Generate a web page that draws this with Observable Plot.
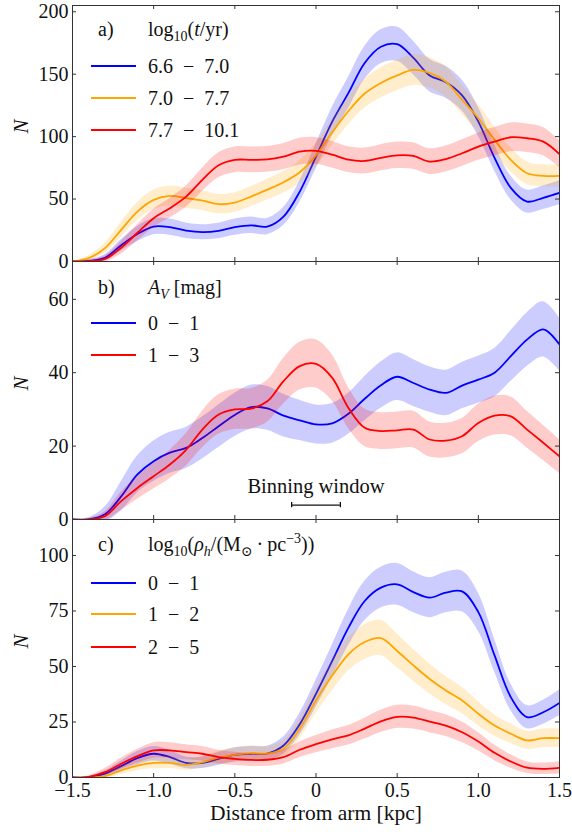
<!DOCTYPE html>
<html>
<head>
<meta charset="utf-8">
<script src="https://cdn.jsdelivr.net/npm/d3@7"></script>
<script src="https://cdn.jsdelivr.net/npm/@observablehq/plot@0.6"></script>
<style>
  html, body { margin: 0; padding: 0; background: #fff; }
  #chart { position: relative; width: 572px; height: 832px; background: #fff; }
  #chart svg { position: absolute; left: 0; overflow: visible; }
  #chart svg, #chart svg text { font-family: "Liberation Serif", "DejaVu Serif", serif !important; }
</style>
</head>
<body>
<div id="chart"></div>
<script>
// ---------- data ----------
const distance = [-1.5,-1.4,-1.3,-1.2,-1.1,-1.0,-0.9,-0.8,-0.7,-0.6,-0.5,-0.4,-0.3,-0.2,-0.1,0,0.1,0.2,0.3,0.4,0.5,0.6,0.7,0.8,0.9,1.0,1.1,1.2,1.3,1.4,1.5];

// panel a) log10(t/yr)
const ageLabels = ["6.6 − 7.0", "7.0 − 7.7", "7.7 − 10.1"];
const ageYoung  = [0,0.5,3,13,22,28,27.5,24.7,23.5,24.5,27.5,29,28,36,56,84,112,135,159,172,174,163,149,143.5,133,112,83,59,48,51,55];
const ageYoungErr = [0,1,2.5,4.5,6,6.5,6.5,6.2,6,6.2,6.5,6.6,6.5,7.2,8.5,10,11.5,12.5,13.2,13.6,13.7,13.4,13,12.8,12.4,11.6,10.5,9.5,9.2,9.4,9.6];
const ageMid    = [0,2.7,10.7,25.4,40,49.4,52.5,50.7,48.8,45.9,47.2,52,57.5,63.5,71.5,85,103.5,120.5,134.5,143,149,153.4,151,144,129.4,114.7,97.4,81.4,70.7,68.6,68.6];
const ageMidErr = [0,2,4,6,7.2,7.8,8,8,7.9,7.7,7.8,8,8.3,8.6,9,9.6,10.4,11,11.6,12,12.2,12.4,12.3,12,11.6,11,10.4,9.6,9,8.8,8.7];
const ageOld    = [0,0.3,2,11,23,34.7,42.7,52,65.4,77,81.4,81.4,81.7,84,88,88.6,85.5,81.5,80.5,83,85,84.5,80,82,86.7,92,96,99.5,98.7,96,86];
const ageOldErr = [0,1,2.5,5,6.5,7.2,7.8,8.5,9.3,10,10.3,10.3,10.3,10.5,10.7,10.7,10.6,10.3,10.3,10.5,10.6,10.6,10.3,10.4,10.7,11,11.3,11.5,11.4,11.3,10.7];

// panel b) A_V [mag]
const avLabels = ["0 − 1", "1 − 3"];
const avLow    = [0,0,1.4,6.3,12.3,15.9,18.2,19.5,22.2,25.4,28.5,30.6,30.3,28.3,27,25.9,26.2,28.8,32.9,36.6,38.9,37.2,35.4,34.5,36.5,38.1,40,44.5,49,51.8,47.7];
const avLowErr = [0,0.5,2,4,5,5.5,5.6,5.6,5.7,5.8,5.9,6,6,5.8,5.5,5.3,5.4,5.6,6,6.3,6.5,6.4,6.2,6.2,6.3,6.4,6.6,6.9,7.3,7.5,7.2];
const avHigh   = [0,0,0.9,5,8.6,11.8,15,19,24.5,28.6,30,30.2,32.2,37.7,41.8,42.4,38.6,30.4,25,24.1,24.3,24.5,21.8,21.5,22.7,26.3,28.3,28.1,24.5,20.9,17.2];
const avHighErr = [0,0.3,1.2,2.5,3.1,3.5,3.9,4.4,5,5.4,5.5,5.5,5.7,6.2,6.5,6.6,6.3,5.6,5.1,5,5,5,4.8,4.7,4.8,5.1,5.3,5.3,5,4.8,4.6];

// panel c) log10(rho_h)
const rhoLabels = ["0 − 1", "1 − 2", "2 − 5"];
const rhoLow    = [0,0,1.7,5.1,8.7,10.7,9.2,6.6,6.6,8.4,10.2,10.7,10.8,14.4,24,37.7,52.5,67.5,79.5,85.5,87,83.5,81,83.3,83.8,74.5,55,36.2,27.2,29.4,33.6];
const rhoLowErr = [0,0.3,1.3,2.3,3,3.3,3.1,2.6,2.6,2.9,3.2,3.3,3.3,3.8,4.9,6.1,7.2,8.2,8.9,9.2,9.4,9.2,9,9.1,9.2,8.6,7.4,6,5.2,5.4,5.8];
const rhoMid    = [0,0,0.6,3.2,5.4,6.6,6.6,5.7,6.9,8.9,10.2,11,10.7,12.9,22,34.7,45.9,55.5,61,62.8,57,50.5,44.4,39.2,34.7,28.7,23.4,19.7,16.7,17.7,17.7];
const rhoMidErr = [0,0.2,0.8,1.8,2.3,2.6,2.6,2.4,2.6,3,3.2,3.3,3.2,3.6,4.7,5.9,6.8,7.4,7.8,8,7.6,7.1,6.7,6.3,5.9,5.4,4.8,4.4,4.1,4.2,4.2];
const rhoHigh   = [0,0.3,2.4,6.2,9.6,12.2,12.2,11.4,10.7,9.2,8.4,7.9,8,9.2,12.5,15,17.2,19,22,25.3,27.3,27,25.2,23.4,20.4,16.2,11.1,7.2,4.4,3.9,4.4];
const rhoHighErr = [0,0.5,1.6,2.5,3.1,3.5,3.5,3.4,3.3,3.1,3,2.9,2.9,3.1,3.5,3.9,4.2,4.4,4.7,5,5.2,5.2,5,4.9,4.6,4.1,3.5,3,2.6,2.6,2.7];

// ticks
const xTicks = [-1.5,-1.0,-0.5,0,0.5,1.0,1.5];
const yTicksA = [0,50,100,150,200];
const yTicksB = [0,20,40,60];
const yTicksC = [0,25,50,75,100];

// binning window annotation
const binWindow = [-0.15, 0.15];
const binLabel = "Binning window";

const colors = {blue: "#0000ff", orange: "#ffa500", red: "#ff0000"};
const FONT = "Liberation Serif, DejaVu Serif, serif";

// ---------- drawing ----------
const W = 572, ML = 72, MR = 13;
const fmtX = d => d === 0 ? "0" : (d < 0 ? "−" : "") + Math.abs(d).toFixed(1);

function panel(cfg) {
  const {top, height, marginTop, marginBottom, yDomain, yTicks, series, showX, extra = []} = cfg;
  const innerH = height - marginTop - marginBottom;
  const innerW = W - ML - MR;
  const marks = [];
  for (const s of series) {
    const rows = distance.map((d, i) => ({x: d, y: s.values[i], lo: s.values[i] - s.err[i], hi: s.values[i] + s.err[i]}));
    marks.push(Plot.areaY(rows, {x: "x", y1: "lo", y2: "hi", fill: s.color, fillOpacity: 0.2, curve: "catmull-rom", clip: true}));
    marks.push(Plot.lineY(rows, {x: "x", y: "y", stroke: s.color, strokeWidth: 1.8, curve: "catmull-rom", clip: true}));
  }
  marks.push(...extra);
  const tk = "#333";
  marks.push(Plot.tickX(xTicks, {x: d => d, insetTop: innerH - 4, stroke: tk}));
  marks.push(Plot.tickX(xTicks, {x: d => d, insetBottom: innerH - 4, stroke: tk}));
  marks.push(Plot.tickY(yTicks, {y: d => d, insetRight: innerW - 4, stroke: tk}));
  marks.push(Plot.tickY(yTicks, {y: d => d, insetLeft: innerW - 4, stroke: tk}));
  marks.push(Plot.axisY(yTicks, {anchor: "left", tickSize: 0, tickPadding: 4, label: null}));
  if (showX) {
    marks.push(Plot.axisX(xTicks, {anchor: "bottom", tickSize: 0, tickPadding: 5, tickFormat: fmtX, label: null}));
    marks.push(Plot.text(["Distance from arm [kpc]"], {text: d => d, frameAnchor: "bottom", dy: 42, fontSize: 21.5}));
  }
  marks.push(Plot.text(["N"], {text: d => d, frameAnchor: "left", dx: -51, rotate: -90, fontStyle: "italic", fontSize: 21}));
  marks.push(Plot.frame({stroke: "#333", strokeWidth: 1}));
  const svg = Plot.plot({
    width: W, height, marginLeft: ML, marginRight: MR, marginTop, marginBottom,
    x: {domain: [-1.5, 1.5], axis: null},
    y: {domain: yDomain, axis: null},
    style: {fontFamily: FONT, fontSize: "20px", color: "#111", background: "transparent", overflow: "visible"},
    marks
  });
  svg.style.top = top + "px";
  return svg;
}

function rich(textSel, parts) {
  let shift = 0;
  for (const p of parts) {
    const target = p.sub ? 5 : p.sup ? -8 : 0;
    const ts = textSel.append("tspan").attr("dy", target - shift).text(p.t);
    shift = target;
    if (p.sub || p.sup) ts.attr("font-size", 14);
    if (p.it) ts.attr("font-style", "italic");
  }
}

function legend(svg, {letter, titleParts, titleY, items, itemY}) {
  const g = d3.select(svg).append("g").attr("font-family", FONT).attr("font-size", 20)
    .attr("fill", "#111").attr("text-anchor", "start");
  g.append("text").attr("x", 98).attr("y", titleY).text(letter);
  rich(g.append("text").attr("x", 148).attr("y", titleY), titleParts);
  items.forEach((it, i) => {
    const y = itemY[i];
    g.append("line").attr("x1", 91).attr("x2", 136).attr("y1", y).attr("y2", y)
      .attr("stroke", it.color).attr("stroke-width", 2);
    g.append("text").attr("x", 148).attr("y", y + 6.5).text(it.label.replace(/ − /g, "\u2002−\u2002"));
  });
}

const chart = document.getElementById("chart");

// panel a
const seriesA = [
  {values: ageYoung, err: ageYoungErr, color: colors.blue, label: ageLabels[0]},
  {values: ageMid, err: ageMidErr, color: colors.orange, label: ageLabels[1]},
  {values: ageOld, err: ageOldErr, color: colors.red, label: ageLabels[2]}
];
const svgA = panel({top: 0, height: 261, marginTop: 5, marginBottom: 0, yDomain: [0, 205], yTicks: yTicksA, series: seriesA});
chart.appendChild(svgA);
legend(svgA, {letter: "a)", titleY: 36,
  titleParts: [{t: "log"}, {t: "10", sub: true}, {t: "("}, {t: "t", it: true}, {t: "/yr)"}],
  items: seriesA, itemY: [66, 98, 130]});

// panel b
const seriesB = [
  {values: avLow, err: avLowErr, color: colors.blue, label: avLabels[0]},
  {values: avHigh, err: avHighErr, color: colors.red, label: avLabels[1]}
];
const binExtra = [
  Plot.ruleY([3.9], {x1: binWindow[0], x2: binWindow[1], stroke: "#111", strokeWidth: 1.3}),
  Plot.ruleX(binWindow, {x: d => d, y1: 3.2, y2: 4.6, stroke: "#111", strokeWidth: 1.3}),
  Plot.text([binLabel], {text: d => d, x: (binWindow[0] + binWindow[1]) / 2, y: 9, fontSize: 20.5})
];
const svgB = panel({top: 261, height: 258, marginTop: 0, marginBottom: 0, yDomain: [0, 70.3], yTicks: yTicksB, series: seriesB, extra: binExtra});
chart.appendChild(svgB);
legend(svgB, {letter: "b)", titleY: 33,
  titleParts: [{t: "A", it: true}, {t: "V", sub: true, it: true}, {t: " [mag]"}],
  items: seriesB, itemY: [62, 94]});

// panel c
const seriesC = [
  {values: rhoLow, err: rhoLowErr, color: colors.blue, label: rhoLabels[0]},
  {values: rhoMid, err: rhoMidErr, color: colors.orange, label: rhoLabels[1]},
  {values: rhoHigh, err: rhoHighErr, color: colors.red, label: rhoLabels[2]}
];
const svgC = panel({top: 519, height: 313, marginTop: 0, marginBottom: 55, yDomain: [0, 116.2], yTicks: yTicksC, series: seriesC, showX: true});
chart.appendChild(svgC);
legend(svgC, {letter: "c)", titleY: 32,
  titleParts: [{t: "log"}, {t: "10", sub: true}, {t: "("}, {t: "ρ", it: true}, {t: "h", sub: true, it: true},
               {t: "/(M"}, {t: "⊙", sub: true}, {t: "\u2009·\u2009pc"}, {t: "−3", sup: true}, {t: "))"}],
  items: seriesC, itemY: [64, 95, 128]});
</script>
</body>
</html>
